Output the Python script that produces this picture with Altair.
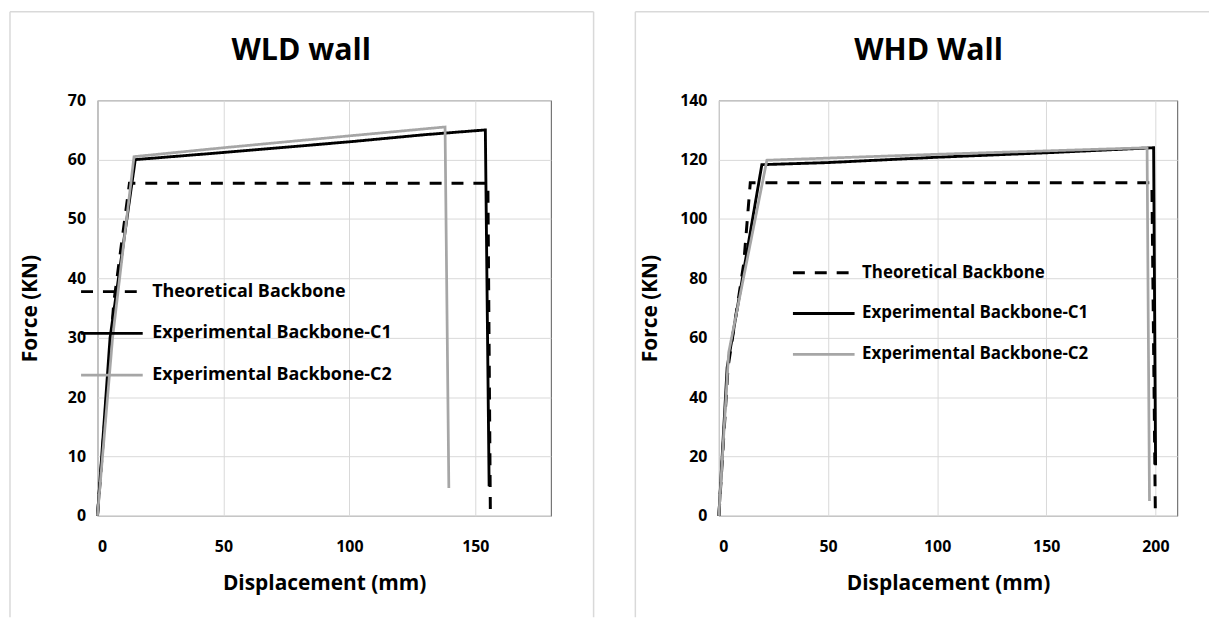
import altair as alt
import pandas as pd

FONT = "Open Sans"
SERIES = ["Theoretical Backbone", "Experimental Backbone-C1", "Experimental Backbone-C2"]

# WLD wall
wld_theo_x = [0, 6.5, 12.7, 155.0, 156.0]
wld_theo_y = [0, 36, 56, 56, 0]
wld_c1_x = [0, 5, 15, 50, 100, 130, 154, 155.5]
wld_c1_y = [0, 30, 60, 61.2, 63, 64.2, 65, 5]
wld_c2_x = [0, 6, 14.5, 50, 100, 138, 139.5]
wld_c2_y = [0, 30, 60.5, 62, 64, 65.5, 4.7]

# WHD Wall
whd_theo_x = [0, 4.2, 11.4, 14.4, 198.4, 200.0]
whd_theo_y = [0, 50, 85, 112.2, 112.2, 0]
whd_c1_x = [0, 3.8, 19.7, 50, 100, 150, 199.2, 200.1]
whd_c1_y = [0, 50, 118.3, 119, 120.8, 122.3, 124, 17]
whd_c2_x = [0, 4.5, 22, 100, 196.2, 197.3]
whd_c2_y = [0, 55, 119.8, 121.8, 124, 5]

wld_xticks = [0, 50, 100, 150]
wld_yticks = [0, 10, 20, 30, 40, 50, 60, 70]
whd_xticks = [0, 50, 100, 150, 200]
whd_yticks = [0, 20, 40, 60, 80, 100, 120, 140]


def make_df(sets):
    rows = []
    for name, xs, ys in sets:
        for i, (x, y) in enumerate(zip(xs, ys)):
            rows.append({"series": name, "x": x, "y": y, "i": i})
    return pd.DataFrame(rows)


def panel(df, xdom, xticks, ydom, yticks, width, title, title_x,
          frame, right_edge, leg, ytitlepad):
    fl, ft, fr, fb = frame
    base = alt.Chart(pd.DataFrame({"k": [0]}))
    layers = [
        base.mark_rule(color="#d9d9d9", strokeWidth=1.5).encode(
            x=alt.value(fl), y=alt.value(ft), y2=alt.value(fb)),
        base.mark_rule(color="#d9d9d9", strokeWidth=1.5).encode(
            x=alt.value(fl), x2=alt.value(fr), y=alt.value(ft)),
    ]
    if right_edge:
        layers.append(base.mark_rule(color="#d9d9d9", strokeWidth=1.5).encode(
            x=alt.value(fr), y=alt.value(ft), y2=alt.value(fb)))
    layers.append(base.mark_text(font=FONT, fontSize=30.5, fontWeight="bold",
                                 align="center", baseline="alphabetic",
                                 color="black").encode(
        x=alt.value(title_x), y=alt.value(-40), text=alt.value(title)))

    legend = alt.Legend(orient="none", legendX=leg[0], legendY=leg[1],
                        symbolType="stroke", symbolSize=leg[2] ** 2,
                        rowPadding=leg[3], labelOffset=leg[4],
                        labelFontSize=leg[5], labelFontWeight="bold",
                        labelFont=FONT, labelColor="black", labelLimit=500,
                        padding=0, title=None)
    lines = alt.Chart(df).mark_line().encode(
        x=alt.X("x:Q", scale=alt.Scale(domain=xdom, nice=False, zero=False),
                axis=alt.Axis(values=xticks, title="Displacement (mm)",
                              labelFontSize=16, labelFontWeight="bold",
                              labelFont=FONT, labelColor="black",
                              labelPadding=23, ticks=False, domain=False,
                              gridColor="#d9d9d9", titleFont=FONT,
                              titleFontSize=21, titleFontWeight="bold",
                              titleColor="black", titlePadding=18)),
        y=alt.Y("y:Q", scale=alt.Scale(domain=ydom, nice=False),
                axis=alt.Axis(values=yticks, title="Force (KN)",
                              labelFontSize=16, labelFontWeight="bold",
                              labelFont=FONT, labelColor="black",
                              labelPadding=12, ticks=False, domain=False,
                              gridColor="#d9d9d9", titleFont=FONT,
                              titleFontSize=21, titleFontWeight="bold",
                              titleColor="black", titlePadding=ytitlepad)),
        color=alt.Color("series:N", scale=alt.Scale(
            domain=SERIES, range=["#000000", "#000000", "#a6a6a6"]), legend=legend),
        strokeDash=alt.StrokeDash("series:N", scale=alt.Scale(
            domain=SERIES, range=[[12, 10], [1, 0], [1, 0]]), legend=legend),
        strokeWidth=alt.StrokeWidth("series:N", scale=alt.Scale(
            domain=SERIES, range=[3, 2.75, 3.3]), legend=legend),
        order="i:Q",
    )
    layers.append(lines)
    return alt.layer(*layers).properties(width=width, height=418)


wld_df = make_df([(SERIES[0], wld_theo_x, wld_theo_y),
                  (SERIES[1], wld_c1_x, wld_c1_y),
                  (SERIES[2], wld_c2_x, wld_c2_y)])
whd_df = make_df([(SERIES[0], whd_theo_x, whd_theo_y),
                  (SERIES[1], whd_c1_x, whd_c1_y),
                  (SERIES[2], whd_c2_x, whd_c2_y)])

left = panel(wld_df, [0, 180], wld_xticks, [0, 70], wld_yticks, 456,
             "WLD wall", 205, (-88, -89, 499, 520), True,
             (-18, 160, 62, -20, 8, 18), 27)
right = panel(whd_df, [0, 210], whd_xticks, [0, 140], whd_yticks, 461,
              "WHD Wall", 211, (-84, -89, 493, 520), False,
              (73, 141, 62, -23, 6, 17), 19)

chart = alt.hconcat(left, right, spacing=38).resolve_scale(
    x="independent", y="independent", color="independent",
    strokeDash="independent", strokeWidth="independent"
).resolve_legend(
    color="independent", strokeDash="independent", strokeWidth="independent"
).configure_view(stroke="#595959", strokeWidth=1).properties(padding=0)

chart.save("out.html", embed_options={"renderer": "svg", "actions": False})
